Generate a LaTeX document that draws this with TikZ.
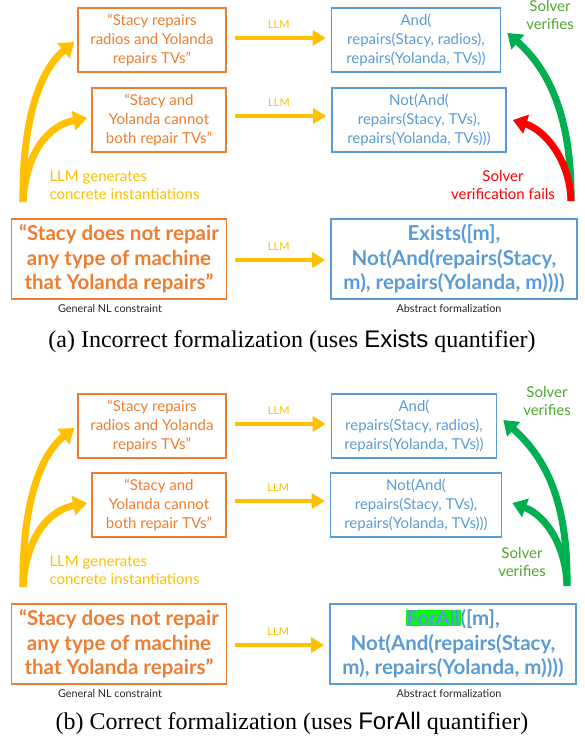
\documentclass[tikz,border=0pt]{standalone}
\usepackage{fontspec}
\setmainfont{Liberation Serif}
\newfontfamily\lato{Lato}
\newfontfamily\helv{Liberation Sans}
\usetikzlibrary{arrows.meta,calc}
\definecolor{nlorange}{HTML}{ED7D31}
\definecolor{fmblue}{HTML}{5B9BD5}
\definecolor{llmgold}{HTML}{FFC000}
\definecolor{okgreen}{HTML}{00B050}
\definecolor{okgreentxt}{HTML}{4EA72E}
\definecolor{badred}{HTML}{FF0000}
\definecolor{hilite}{HTML}{00FF00}
\tikzset{
  box/.style = {draw, line width=1.6pt, align=center, inner sep=0pt, font=\lato\fontsize{15}{19}\selectfont},
  nl_s/.style = {box, draw=nlorange, text=nlorange, minimum height=64pt},
  fm_s/.style = {box, draw=fmblue, text=fmblue, minimum height=64pt},
  nl_b/.style = {nl_s, font=\lato\bfseries\fontsize{20.5}{24.5}\selectfont, minimum width=215pt, minimum height=80pt},
  fm_b/.style = {fm_s, font=\lato\bfseries\fontsize{20.5}{24.5}\selectfont, minimum width=246pt, minimum height=80pt},
  role/.style = {font=\lato\fontsize{10.8}{12}\selectfont, text=black!85},
  note/.style = {align=center, font=\lato\fontsize{15}{18}\selectfont},
  llm_arr/.style = {draw=llmgold, line width=4.5pt, -{Triangle[length=13pt,width=15pt]}, shorten <=8pt, shorten >=5pt},
  llm_lbl/.style = {font=\lato\fontsize{11}{12}\selectfont, text=llmgold, above=4pt},
  big_arr/.style = {line width=7pt, -{Triangle[length=14pt,width=19pt]}},
  caption/.style = {font=\fontsize{24}{28}\selectfont}
}
\newcommand{\hlbox}[1]{{\setlength{\fboxsep}{0.5pt}\colorbox{hilite}{#1}}}

\begin{document}
\begin{tikzpicture}[x=1pt, y=-1pt]
	\useasboundingbox (0,0) rectangle (585,741);

	% (a) incorrect formalization
	\node [nl_s, minimum width=148pt] (a_nl1) at (152,40) {“Stacy repairs\\radios and Yolanda\\repairs TVs”};
	\node [nl_s, minimum width=134pt] (a_nl2) at (159,120) {“Stacy and\\Yolanda cannot\\both repair TVs”};
	\node [nl_b] (a_nl) at (119,259) {“Stacy does not repair\\any type of machine\\that Yolanda repairs”};
	\node [role] (a_nl_role) at (110,309) {General NL constraint};
	\node [fm_s, minimum width=169pt] (a_fm1) at (416,40) {And(\\repairs(Stacy, radios),\\repairs(Yolanda, TVs))};
	\node [fm_s, minimum width=174pt] (a_fm2) at (419,120) {Not(And(\\repairs(Stacy, TVs),\\repairs(Yolanda, TVs)))};
	\node [fm_b] (a_fm) at (454,259) {Exists([m],\\Not(And(repairs(Stacy,\\m), repairs(Yolanda, m))))};
	\node [role] (a_fm_role) at (449,309) {Abstract formalization};

	\draw [llm_arr] ([yshift=2pt]a_nl1.east) -- node [llm_lbl] (a_llm1) {LLM} ([yshift=2pt]a_fm1.west);
	\draw [llm_arr] ([yshift=4pt]a_nl2.east) -- node [llm_lbl] (a_llm2) {LLM} ([yshift=4pt]a_fm2.west);
	\draw [llm_arr] ([yshift=-1pt]a_nl.east) -- node [llm_lbl] (a_llm) {LLM} ([yshift=-1pt]a_fm.west);

	\coordinate (a_gen) at (23,202);
	\draw [big_arr, llmgold] (a_gen) .. controls (22,120) and (40,70) .. ([xshift=-3pt,yshift=-2pt]a_nl1.west);
	\draw [big_arr, llmgold] (a_gen) .. controls (26,150) and (50,125) .. ([xshift=-4pt,yshift=2pt]a_nl2.west);
	\node [note, align=left, anchor=west, text=llmgold] (a_gen_lbl) at (46,185) {LLM generates\\concrete instantiations};

	\coordinate (a_chk) at (571,201);
	\draw [big_arr, okgreen] (a_chk) .. controls (572,120) and (550,70) .. ([xshift=6pt,yshift=7pt]a_fm1.east);
	\draw [big_arr, badred] (a_chk) .. controls (570,160) and (545,130) .. ([xshift=6pt]a_fm2.east);
	\node [note, text=okgreentxt] (a_ok_lbl) at (550,15) {Solver\\verifies};
	\node [note, text=badred] (a_bad_lbl) at (503,185) {Solver\\verification fails};

	\node [caption] (cap_a) at (292,341) {(a) Incorrect formalization (uses {\helv Exists} quantifier)};

	% (b) correct formalization
	\node [nl_s, minimum width=148pt] (b_nl1) at (152,426) {“Stacy repairs\\radios and Yolanda\\repairs TVs”};
	\node [nl_s, minimum width=134pt] (b_nl2) at (159,505) {“Stacy and\\Yolanda cannot\\both repair TVs”};
	\node [nl_b] (b_nl) at (119,644) {“Stacy does not repair\\any type of machine\\that Yolanda repairs”};
	\node [role] (b_nl_role) at (110,694) {General NL constraint};
	\node [fm_s, minimum width=165pt] (b_fm1) at (414,426) {And(\\repairs(Stacy, radios),\\repairs(Yolanda, TVs))};
	\node [fm_s, minimum width=171pt] (b_fm2) at (416,505) {Not(And(\\repairs(Stacy, TVs),\\repairs(Yolanda, TVs)))};
	\node [fm_b] (b_fm) at (453,644) {\hlbox{ForAll}([m],\\Not(And(repairs(Stacy,\\m), repairs(Yolanda, m))))};
	\node [role] (b_fm_role) at (449,694) {Abstract formalization};

	\draw [llm_arr] ([yshift=2pt]b_nl1.east) -- node [llm_lbl] (b_llm1) {LLM} ([yshift=2pt]b_fm1.west);
	\draw [llm_arr] ([yshift=4pt]b_nl2.east) -- node [llm_lbl] (b_llm2) {LLM} ([yshift=4pt]b_fm2.west);
	\draw [llm_arr] ([yshift=-1pt]b_nl.east) -- node [llm_lbl] (b_llm) {LLM} ([yshift=-1pt]b_fm.west);

	\coordinate (b_gen) at (23,587);
	\draw [big_arr, llmgold] (b_gen) .. controls (22,505) and (40,455) .. ([xshift=-3pt,yshift=-2pt]b_nl1.west);
	\draw [big_arr, llmgold] (b_gen) .. controls (26,535) and (50,510) .. ([xshift=-4pt,yshift=2pt]b_nl2.west);
	\node [note, align=left, anchor=west, text=llmgold] (b_gen_lbl) at (46,570) {LLM generates\\concrete instantiations};

	\coordinate (b_chk) at (567,586);
	\draw [big_arr, okgreen] (b_chk) .. controls (568,505) and (548,460) .. ([xshift=6pt,yshift=6pt]b_fm1.east);
	\draw [big_arr, okgreen] (b_chk) .. controls (566,545) and (545,515) .. ([xshift=10pt,yshift=2pt]b_fm2.east);
	\node [note, text=okgreentxt] (b_ok1_lbl) at (547,401) {Solver\\verifies};
	\node [note, text=okgreentxt] (b_ok2_lbl) at (522,562) {Solver\\verifies};

	\node [caption] (cap_b) at (292,723) {(b) Correct formalization (uses {\helv ForAll} quantifier)};
\end{tikzpicture}
\end{document}
